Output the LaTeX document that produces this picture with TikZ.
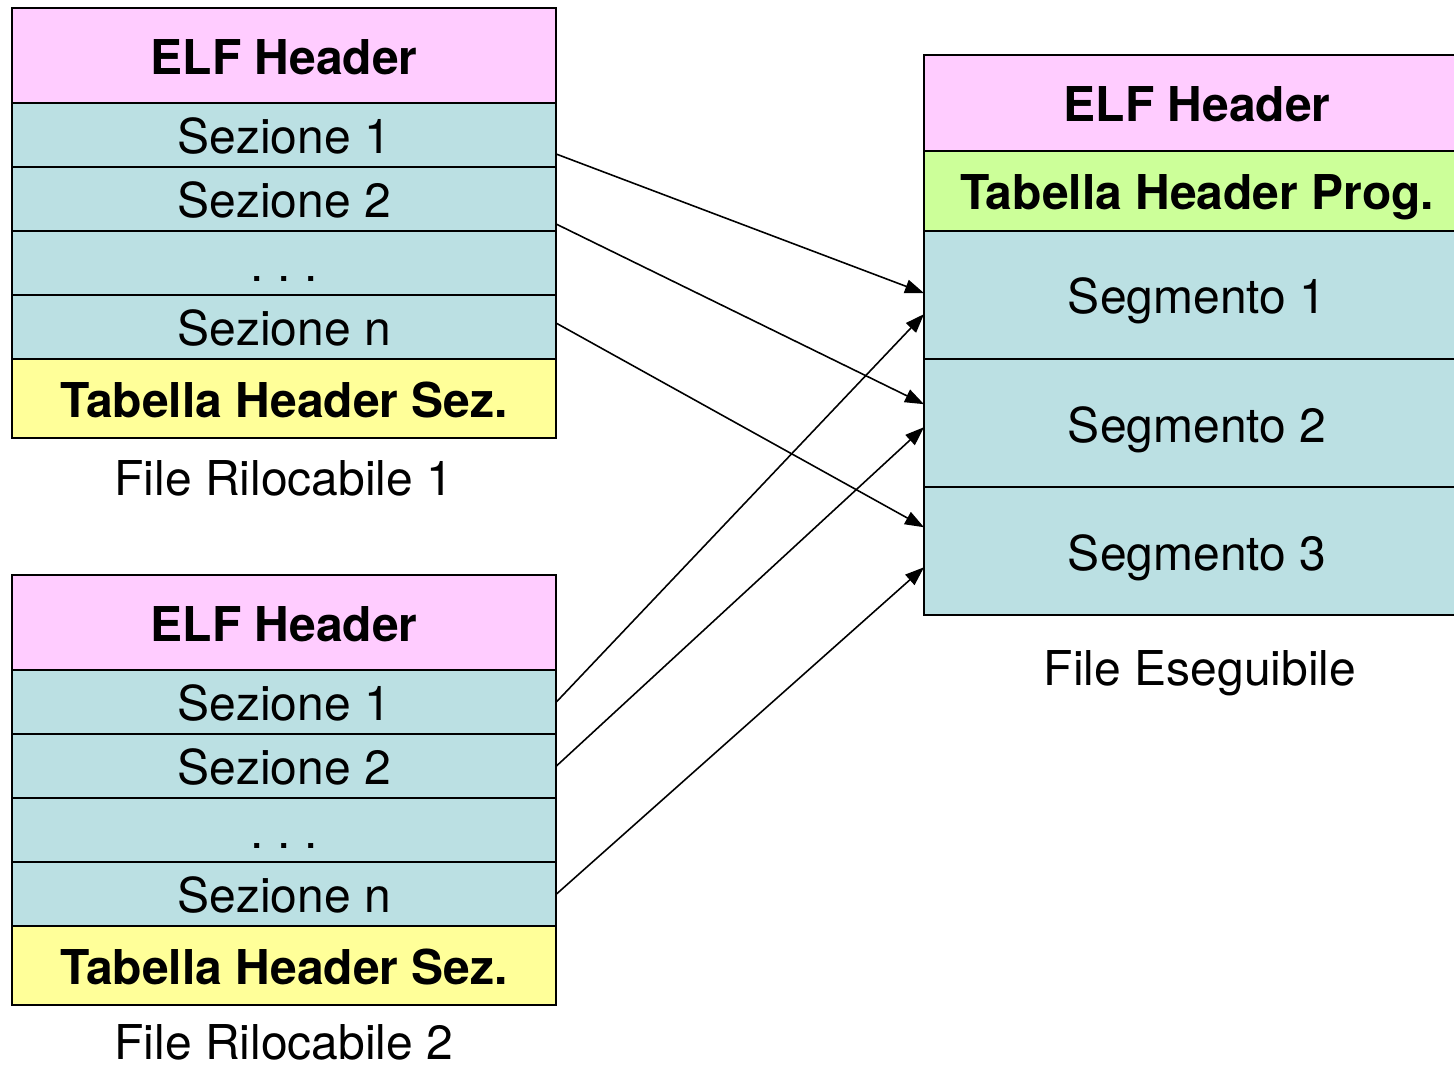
\documentclass[tikz,border=0pt]{standalone}
\usepackage{fontspec}
\setmainfont{TeX Gyre Heros}
\usetikzlibrary{arrows.meta}
\definecolor{pinkc}{HTML}{FFCCFF}
\definecolor{bluec}{HTML}{BBE0E3}
\definecolor{yellowc}{HTML}{FFFF99}
\definecolor{greenc}{HTML}{CCFF99}
\begin{document}
\begin{tikzpicture}[x=0.01cm,y=-0.01cm,
  cell/.style={draw, line width=0.6pt, inner sep=0pt, outer sep=0pt,
    minimum width=5.44cm, anchor=north west, text height=10.7pt, text depth=0pt,
    font=\fontsize{13.65}{16}\selectfont},
  rcell/.style={cell, minimum width=5.46cm},
  lbl/.style={inner sep=0pt, text height=10.7pt, text depth=0pt,
    font=\fontsize{13.65}{16}\selectfont},
  arr/.style={line width=0.45pt, -{Triangle[length=5.4pt,width=3.9pt]}}]
\useasboundingbox (0,0) rectangle (1454,1065);
\begin{scope}
\clip (0,0) rectangle (1454,1065);
% File Rilocabile 1
\node[cell, fill=pinkc, minimum height=0.95cm] (a0) at (12,8) {\bfseries ELF Header};
\node[cell, fill=bluec, minimum height=0.64cm] (a1) at (a0.south west) {Sezione 1};
\node[cell, fill=bluec, minimum height=0.64cm] (a2) at (a1.south west) {Sezione 2};
\node[cell, fill=bluec, minimum height=0.64cm] (a3) at (a2.south west) {.\ .\ .};
\node[cell, fill=bluec, minimum height=0.64cm] (a4) at (a3.south west) {Sezione n};
\node[cell, fill=yellowc, minimum height=0.79cm] (a5) at (a4.south west) {\bfseries Tabella Header Sez.};
% File Rilocabile 2
\node[cell, fill=pinkc, minimum height=0.95cm] (b0) at (12,575) {\bfseries ELF Header};
\node[cell, fill=bluec, minimum height=0.64cm] (b1) at (b0.south west) {Sezione 1};
\node[cell, fill=bluec, minimum height=0.64cm] (b2) at (b1.south west) {Sezione 2};
\node[cell, fill=bluec, minimum height=0.64cm] (b3) at (b2.south west) {.\ .\ .};
\node[cell, fill=bluec, minimum height=0.64cm] (b4) at (b3.south west) {Sezione n};
\node[cell, fill=yellowc, minimum height=0.79cm] (b5) at (b4.south west) {\bfseries Tabella Header Sez.};
% File Eseguibile
\node[rcell, fill=pinkc, minimum height=0.96cm] (r0) at (924,55) {\bfseries ELF Header};
\node[rcell, fill=greenc, minimum height=0.80cm] (r1) at (r0.south west) {\bfseries Tabella Header Prog.};
\node[rcell, fill=bluec, minimum height=1.28cm] (r2) at (r1.south west) {Segmento 1};
\node[rcell, fill=bluec, minimum height=1.28cm] (r3) at (r2.south west) {Segmento 2};
\node[rcell, fill=bluec, minimum height=1.28cm] (r4) at (r3.south west) {Segmento 3};
\end{scope}
\node[lbl] (la) at (284,477) {File Rilocabile 1};
\node[lbl] (lb) at (284,1041) {File Rilocabile 2};
\node[lbl] (lr) at (1200,667) {File Eseguibile};
% Arrows
\draw[arr] ([yshift=-0.19cm]a1.east) -- ([yshift=0.02cm]r2.west);
\draw[arr] ([yshift=-0.25cm]a2.east) -- ([yshift=0.19cm]r3.west);
\draw[arr] ([yshift=0.04cm]a4.east) -- ([yshift=0.24cm]r4.west);
\draw[arr] (b1.east) -- ([yshift=-0.19cm]r2.west);
\draw[arr] (b2.east) -- ([yshift=-0.04cm]r3.west);
\draw[arr] (b4.east) -- ([yshift=-0.16cm]r4.west);
\end{tikzpicture}
\end{document}
